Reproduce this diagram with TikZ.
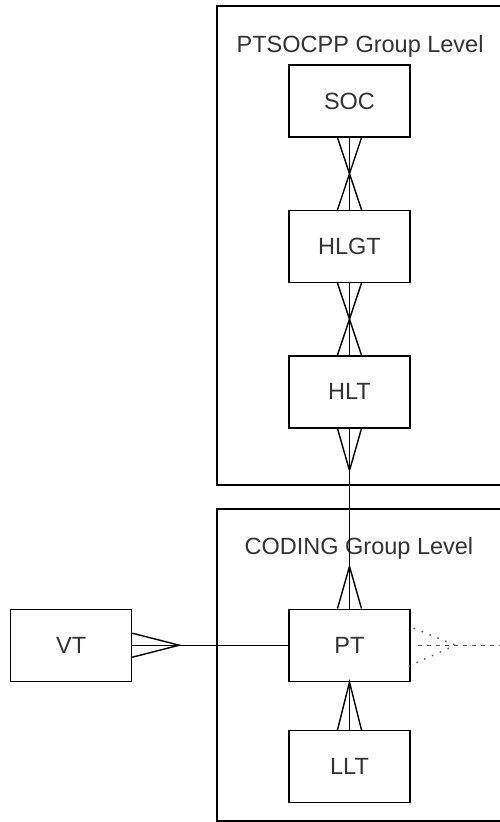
\documentclass[tikz,border=0pt]{standalone}
\usepackage{fontspec}
\setmainfont{Liberation Sans}
\usetikzlibrary{positioning}

\begin{document}
\begin{tikzpicture}[x=1pt,y=1pt,font=\fontsize{23.5}{28}\selectfont,line width=1.4pt,
  entity/.style={draw,minimum width=121pt,minimum height=72pt,inner sep=0pt,text=black!80},
  group/.style={draw},
  title/.style={anchor=base west,inner sep=0pt,text=black!80},
  dotfoot/.style={black!60,line width=1.5pt,dash pattern=on 1.5pt off 7pt},
  dashwire/.style={black!65,line width=1.3pt,dash pattern=on 4pt off 5pt}]
\clip (0,0) rectangle (500,-822);
% group frames, right edges run off the page
\draw[group] (217,-6) rectangle (520,-485);
\draw[group] (217,-509) rectangle (520,-821);
\node[title] (ptsocpp) at (236,-52) {PTSOCPP Group Level};
\node[title] (coding) at (244,-554) {CODING Group Level};
\node[entity] (soc) at (349.5,-101) {SOC};
\node[entity,below=72pt of soc] (hlgt) {HLGT};
\node[entity,below=72pt of hlgt] (hlt) {HLT};
\node[entity,below=180pt of hlt] (pt) {PT};
\node[entity,below=48pt of pt] (llt) {LLT};
\node[entity,left=156pt of pt] (vt) {VT};
\coordinate[right=110pt of pt.east] (offpage);
% many-to-many links
\draw (soc)--(hlgt);
\draw ([xshift=-12pt]soc.south)--([xshift=12pt]hlgt.north);
\draw ([xshift=12pt]soc.south)--([xshift=-12pt]hlgt.north);
\draw (hlgt)--(hlt);
\draw ([xshift=-12pt]hlgt.south)--([xshift=12pt]hlt.north);
\draw ([xshift=12pt]hlgt.south)--([xshift=-12pt]hlt.north);
\draw (hlt)--(pt);
\draw ([xshift=-12pt]hlt.south)--([yshift=-42pt]hlt.south)--([xshift=12pt]hlt.south);
\draw ([xshift=-12pt]pt.north)--([yshift=42pt]pt.north)--([xshift=12pt]pt.north);
% one-to-many links
\draw (llt)--(pt);
\draw ([xshift=-12pt]llt.north)--(pt.south)--([xshift=12pt]llt.north);
\draw (vt)--(pt);
\draw ([yshift=12pt]vt.east)--([xshift=47pt]vt.east)--([yshift=-12pt]vt.east);
% link to an entity off the page
\draw[dashwire] ([xshift=7pt]pt.east)--(offpage);
\draw[dotfoot] ([shift={(3pt,17pt)}]pt.east)--([xshift=45pt]pt.east);
\draw[dotfoot] ([shift={(-2pt,-21pt)}]pt.east)--([xshift=45pt]pt.east);
\end{tikzpicture}
\end{document}
